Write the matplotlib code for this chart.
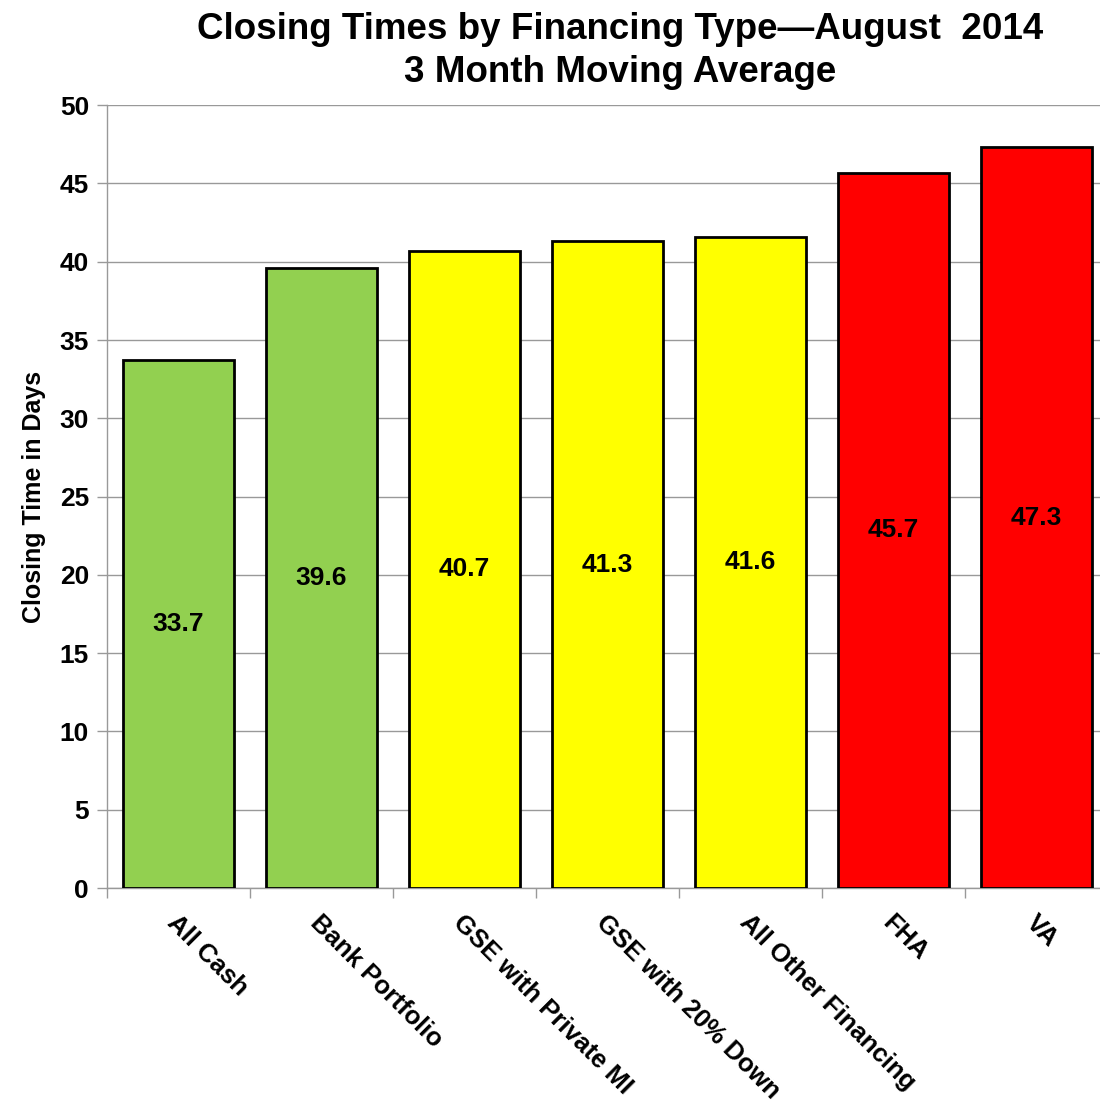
import matplotlib.pyplot as plt
import numpy as np

plt.rcParams['font.family'] = ['Liberation Sans', 'DejaVu Sans']
plt.rcParams['font.weight'] = 'bold'

categories = ['All Cash', 'Bank Portfolio', 'GSE with Private MI', 'GSE with 20% Down',
              'All Other Financing', 'FHA', 'VA']
days = [33.7, 39.6, 40.7, 41.3, 41.6, 45.7, 47.3]
colors = ['#92D050', '#92D050', '#FFFF00', '#FFFF00', '#FFFF00', '#FF0000', '#FF0000']

fig = plt.figure(figsize=(11, 11.06), dpi=100)
ax = fig.add_axes([0.0973, 0.1971, 0.91, 0.7078])

x = np.arange(len(categories))
ax.bar(x, days, width=0.78, color=colors, edgecolor='black', linewidth=2, zorder=3)

# value labels in the middle of each bar
for xi, v in zip(x, days):
    ax.text(xi, v / 2, f'{v:.1f}', ha='center', va='center', fontsize=19, fontweight='bold', zorder=4)

ax.set_xlim(-0.5, len(categories) - 0.5)
ax.set_ylim(0, 50)
ax.set_yticks(np.arange(0, 51, 5))
ax.yaxis.grid(True, color='#999999', linewidth=1, zorder=0)
ax.tick_params(axis='y', labelsize=19, length=7, color='#999999', width=1, pad=6)

# x ticks at category boundaries, labels at centres
ax.set_xticks(np.arange(-0.5, len(categories), 1.0))
ax.set_xticklabels([])
ax.tick_params(axis='x', length=7, color='#999999', width=1)
for xi, lab in zip(x, categories):
    ax.annotate(lab, xy=(xi, 0), xycoords=('data', 'axes fraction'), xytext=(1, -16),
                textcoords='offset points', rotation=-45, rotation_mode='anchor',
                ha='left', va='top', fontsize=18.5, fontweight='bold')

for s in ['top', 'right']:
    ax.spines[s].set_visible(False)
for s in ['left', 'bottom']:
    ax.spines[s].set_color('#999999')
    ax.spines[s].set_linewidth(1)

ax.set_ylabel('Closing Time in Days', fontsize=18, fontweight='bold', labelpad=10)
fig.text(0.564, 0.989, 'Closing Times by Financing Type\u2014August  2014\n3 Month Moving Average',
         ha='center', va='top', fontsize=26.5, fontweight='bold', linespacing=1.28)

fig.savefig('out.png', dpi=100)
